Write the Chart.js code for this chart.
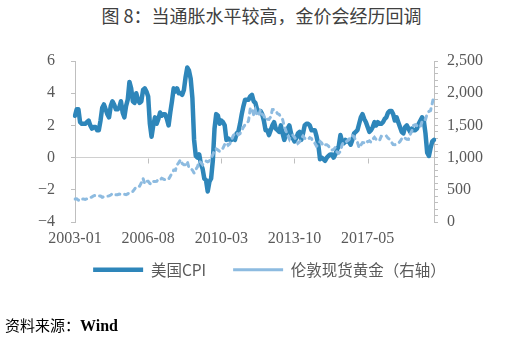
<!DOCTYPE html>
<html>
<head>
<meta charset="utf-8">
<script src="https://cdn.jsdelivr.net/npm/chart.js@4.4.0/dist/chart.umd.min.js"></script>
<style>
  html, body { margin: 0; padding: 0; background: #fff; }
  #wrap { position: relative; width: 507px; height: 342px; overflow: hidden; }
  #title { position: absolute; left: 8px; top: 2px; width: 507px; text-align: center;
           font: 18px "Noto Sans CJK SC"; color: #404040; white-space: nowrap; }
  #src { position: absolute; left: 5px; top: 314px; font: 15px "Noto Sans CJK SC"; color: #000; }
  #src b { font-family: "Liberation Serif"; font-size: 16px; }
  canvas { position: absolute; left: 0; top: 0; }
</style>
</head>
<body>
<div id="wrap">
  <div id="title">图 8：当通胀水平较高，金价会经历回调</div>
  <canvas id="chart" width="507" height="342"></canvas>
  <div id="src">资料来源：<b>Wind</b></div>
</div>
<script>
// US CPI yoy (%), monthly 2003-01 .. 2020-08
const cpi = [
  2.6,3.0,3.0,2.2,2.1,2.1,2.1,2.2,2.3,2.0,1.8,1.9,
  1.9,1.7,1.7,2.3,3.1,3.3,3.0,2.7,2.5,3.2,3.5,3.3,
  3.0,3.0,3.1,3.5,2.8,2.5,3.2,3.6,4.7,4.3,3.5,3.4,
  4.0,3.6,3.4,3.5,4.2,4.3,4.1,3.8,2.1,1.3,2.0,2.5,
  2.1,2.4,2.8,2.6,2.7,2.7,2.4,2.0,2.8,3.5,4.3,4.1,
  4.3,4.0,4.0,3.9,4.2,5.0,5.6,5.4,4.9,3.7,1.1,0.1,
  0.0,0.2,-0.4,-0.7,-1.3,-1.4,-2.1,-1.5,-1.3,-0.2,1.8,2.7,
  2.6,2.1,2.3,2.2,2.0,1.1,1.2,1.1,1.1,1.2,1.1,1.5,
  1.6,2.1,2.7,3.2,3.6,3.6,3.6,3.8,3.9,3.5,3.4,3.0,
  2.9,2.9,2.7,2.3,1.7,1.7,1.4,1.7,2.0,2.2,1.8,1.7,
  1.6,2.0,1.5,1.1,1.4,1.8,2.0,1.5,1.2,1.0,1.2,1.5,
  1.6,1.1,1.5,2.0,2.1,2.1,2.0,1.7,1.7,1.7,1.3,0.8,
  -0.1,0.0,-0.1,-0.2,0.0,0.1,0.2,0.2,0.0,0.2,0.5,0.7,
  1.4,1.0,0.9,1.1,1.0,1.0,0.8,1.1,1.5,1.6,1.7,2.1,
  2.5,2.7,2.4,2.2,1.9,1.6,1.7,1.9,2.2,2.0,2.2,2.1,
  2.1,2.2,2.4,2.5,2.8,2.9,2.9,2.7,2.3,2.5,2.2,1.9,
  1.6,1.5,1.9,2.0,1.8,1.6,1.8,1.7,1.7,1.8,2.1,2.3,
  2.5,2.3,1.5,0.3,0.1,0.6,1.0,1.1
];

// London spot gold (USD/oz), same months
const gold = [
  356,359,340,328,355,356,351,360,379,379,390,407,
  414,405,406,404,384,392,398,400,406,420,439,442,
  424,423,434,429,422,430,424,437,456,470,476,510,
  549,555,557,610,676,596,633,632,598,586,628,629,
  631,665,655,679,667,655,665,665,712,754,806,803,
  889,922,968,909,888,890,939,839,829,806,760,816,
  858,943,924,890,928,946,934,949,996,1043,1127,1135,
  1118,1095,1113,1148,1205,1233,1193,1215,1271,1343,1370,1391,
  1356,1372,1424,1474,1512,1529,1572,1756,1772,1665,1739,1652,
  1656,1742,1673,1650,1585,1596,1594,1630,1744,1747,1722,1685,
  1671,1627,1593,1487,1414,1343,1286,1347,1349,1316,1275,1221,
  1244,1300,1336,1299,1287,1279,1311,1296,1239,1223,1176,1201,
  1251,1227,1179,1198,1199,1181,1131,1117,1125,1159,1086,1068,
  1097,1200,1246,1242,1260,1276,1337,1341,1326,1267,1238,1152,
  1192,1234,1231,1266,1246,1260,1237,1283,1315,1280,1283,1265,
  1331,1331,1325,1335,1303,1282,1238,1202,1199,1215,1220,1250,
  1291,1320,1301,1286,1284,1359,1413,1500,1511,1495,1471,1480,
  1560,1597,1592,1683,1716,1732,1846,1968
];

const labelStep = 43;   // one axis label every 43 months
const months = [];
for (let i = 0; i < cpi.length; i++) {
  const y = 2003 + Math.floor(i / 12), m = i % 12 + 1;
  months.push(y + '-' + String(m).padStart(2, '0'));
}

const axisColor = '#bfbfbf';
const textColor = '#595959';
const tickFont = { family: 'Liberation Serif', size: 16 };

// small tick marks hanging under the zero line
const zeroTicks = {
  id: 'zeroTicks',
  beforeDatasetsDraw(chart) {
    const { ctx, scales: { x, y } } = chart;
    const y0 = Math.round(y.getPixelForValue(0)) + 0.5;
    ctx.save();
    ctx.strokeStyle = axisColor;
    ctx.lineWidth = 1;
    for (let i = 0; i < months.length; i += labelStep) {
      const px = Math.round(x.getPixelForValue(i)) + 0.5;
      ctx.beginPath();
      ctx.moveTo(px, y0);
      ctx.lineTo(px, y0 + 5);
      ctx.stroke();
    }
    ctx.restore();
  }
};

// legend padding is wide for the gap between items, pull the row back up
const liftLegend = {
  id: 'liftLegend',
  afterLayout(chart) {
    chart.legend.top -= 17;
    chart.legend.bottom -= 17;
  }
};

new Chart(document.getElementById('chart'), {
  type: 'line',
  data: {
    labels: months,
    datasets: [
      { label: '美国CPI', data: cpi, yAxisID: 'y', order: 1,
        borderColor: '#2e86ba', backgroundColor: '#2e86ba', borderWidth: 4.5,
        borderCapStyle: 'round', borderJoinStyle: 'round', pointRadius: 0, pointStyle: 'line' },
      { label: '伦敦现货黄金（右轴）', data: gold, yAxisID: 'y1', order: 0,
        borderColor: '#8dbbe0', backgroundColor: '#8dbbe0', borderWidth: 3, borderDash: [4, 5],
        borderCapStyle: 'round', pointRadius: 0, pointStyle: 'line' }
    ]
  },
  options: {
    responsive: false, animation: false, devicePixelRatio: 1,
    layout: { padding: { left: 32, right: 0, top: 61, bottom: 37.5 } },
    plugins: {
      legend: {
        position: 'bottom',
        labels: {
          usePointStyle: true, pointStyleWidth: 50, padding: 27,
          color: textColor, font: { family: 'Noto Sans CJK SC', size: 15.5 },
          sort: (a, b) => a.datasetIndex - b.datasetIndex
        }
      },
      tooltip: { enabled: false }
    },
    scales: {
      x: {
        grid: { display: false, drawTicks: false }, border: { display: false },
        ticks: { autoSkip: false, maxRotation: 0, padding: 7.5, color: textColor, font: tickFont,
                 callback: (v, i) => i % labelStep === 0 ? months[i] : null },
        afterFit: s => { s.height = 30; }
      },
      y: {
        position: 'left', min: -4, max: 6,
        ticks: { stepSize: 2, padding: 16, color: textColor, font: tickFont,
                 callback: v => v < 0 ? '\u2212' + Math.abs(v) : String(v) },
        grid: { color: c => c.tick && c.tick.value === 0 ? '#d0d0d0' : 'rgba(0,0,0,0)',
                tickColor: axisColor, tickLength: 4 },
        border: { color: axisColor },
        afterFit: s => { s.width = 43; }
      },
      y1: {
        position: 'right', min: 0, max: 2500,
        ticks: { stepSize: 100, autoSkip: false, padding: 9, color: textColor, font: tickFont,
                 callback: v => v % 500 === 0 ? v.toLocaleString('en-US') : '' },
        grid: { drawOnChartArea: false, tickColor: axisColor, tickLength: 4 },
        border: { color: axisColor },
        afterFit: s => { s.width = 73; }
      }
    }
  },
  plugins: [zeroTicks, liftLegend]
});
</script>
</body>
</html>
